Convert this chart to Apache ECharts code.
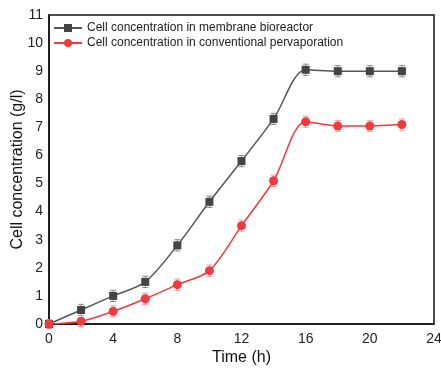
<!DOCTYPE html>
<html><head><meta charset="utf-8">
<script src="https://cdn.jsdelivr.net/npm/echarts@6/dist/echarts.min.js"></script>
<style>html,body{margin:0;padding:0;background:#fff}#c{width:441px;height:371px}</style>
</head><body><div id="c"></div>
<script>
const time = [0, 2, 4, 6, 8, 10, 12, 14, 16, 18, 20, 22];
const membrane = [0, 0.5, 1.0, 1.5, 2.8, 4.35, 5.8, 7.3, 9.05, 9.0, 9.0, 9.0];
const membraneErr = [0.15, 0.2, 0.2, 0.2, 0.2, 0.2, 0.2, 0.2, 0.2, 0.2, 0.2, 0.2];
const conventional = [0, 0.1, 0.45, 0.9, 1.4, 1.9, 3.5, 5.1, 7.2, 7.05, 7.05, 7.1];
const conventionalErr = [0.15, 0.2, 0.2, 0.2, 0.2, 0.2, 0.2, 0.2, 0.2, 0.2, 0.2, 0.2];
const names = ['Cell concentration in membrane bioreactor', 'Cell concentration in conventional pervaporation'];

const pairs = (ys) => time.map((t, i) => [t, ys[i]]);
function errSeries(ys, errs, color) {
  return {
    type: 'custom', silent: true, z: 1,
    data: time.map((t, i) => [t, ys[i] - errs[i], ys[i] + errs[i]]),
    renderItem: function (params, api) {
      const lo = api.coord([api.value(0), api.value(1)]);
      const hi = api.coord([api.value(0), api.value(2)]);
      const w = 3;
      const st = { stroke: color, lineWidth: 1 };
      return { type: 'group', children: [
        { type: 'line', shape: { x1: lo[0], y1: lo[1], x2: hi[0], y2: hi[1] }, style: st },
        { type: 'line', shape: { x1: lo[0]-w, y1: lo[1], x2: lo[0]+w, y2: lo[1] }, style: st },
        { type: 'line', shape: { x1: hi[0]-w, y1: hi[1], x2: hi[0]+w, y2: hi[1] }, style: st }
      ]};
    }
  };
}
const chart = echarts.init(document.getElementById('c'));
const font = 'Liberation Sans, Arial, sans-serif';
chart.setOption({
  animation: false,
  textStyle: { fontFamily: font },
  grid: { left: 49, right: 7, top: 15, bottom: 47, containLabel: false, outerBoundsMode: 'none', show: true, borderColor: '#111', borderWidth: 1.5, backgroundColor: 'transparent' },
  legend: {
    left: 48, top: 17, orient: 'vertical', itemGap: 3, itemWidth: 28, itemHeight: 10,
    textStyle: { fontFamily: font, fontSize: 12, color: '#222' },
    data: names
  },
  xAxis: {
    type: 'value', min: 0, max: 24, interval: 4,
    name: 'Time (h)', nameLocation: 'middle', nameGap: 26, nameMoveOverlap: false,
    nameTextStyle: { fontSize: 16, color: '#111', fontFamily: font },
    axisLine: { onZero: false, lineStyle: { color: '#111', width: 1.5 } },
    axisTick: { show: false },
    axisLabel: { fontSize: 14, color: '#222', margin: 8, fontFamily: font },
    splitLine: { show: false }
  },
  yAxis: {
    type: 'value', min: 0, max: 11, interval: 1,
    name: 'Cell concentration (g/l)', nameLocation: 'middle', nameGap: 23, nameMoveOverlap: false,
    nameTextStyle: { fontSize: 16, color: '#111', fontFamily: font },
    axisLine: { lineStyle: { color: '#111', width: 1.5 } },
    axisTick: { show: false },
    axisLabel: { fontSize: 14, color: '#222', margin: 6, fontFamily: font },
    splitLine: { show: false }
  },
  series: [
    errSeries(membrane, membraneErr, '#888'),
    errSeries(conventional, conventionalErr, '#f59a9a'),
    { name: names[0], type: 'line', data: pairs(membrane), smooth: 0.3, symbol: 'rect', symbolSize: 8,
      itemStyle: { color: '#444' }, lineStyle: { color: '#555', width: 1.5 }, z: 3 },
    { name: names[1], type: 'line', data: pairs(conventional), smooth: 0.3, symbol: 'circle', symbolSize: 9,
      itemStyle: { color: '#f03a3e' }, lineStyle: { color: '#f03a3e', width: 1.5 }, z: 3 }
  ]
});
</script></body></html>
